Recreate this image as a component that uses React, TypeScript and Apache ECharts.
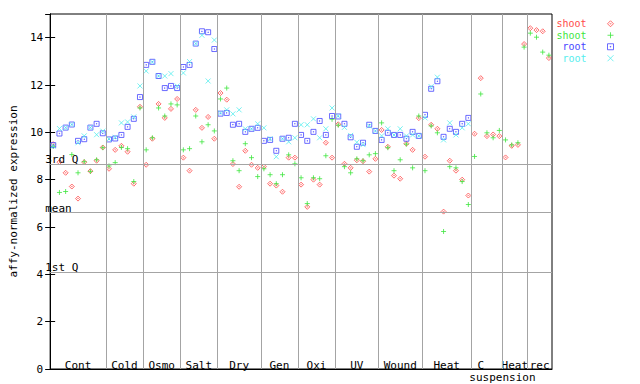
import React, { useEffect, useRef } from 'react';
import * as echarts from 'echarts';

const groupNames = ['Cont', 'Cold', 'Osmo', 'Salt', 'Dry', 'Gen', 'Oxi', 'UV', 'Wound', 'Heat', 'C', 'Heat', 'rec'];
const groupSizes = [9, 6, 6, 6, 7, 6, 6, 7, 7, 8, 5, 4, 4];
const subLabel = 'suspension';

const yTickValues = [0, 2, 4, 6, 8, 10, 12, 14];
const refLineNames = ['3rd Q', 'mean', '1st Q'];
const refLineValues = [8.67, 6.61, 4.08];

const legendNames = ['shoot', 'shoot', 'root', 'root'];

const shootA = [
  9.5, 8.74, 8.29, 7.71, 7.2, 8.74, 8.36, 8.8, 9.36,
  8.46, 9.26, 9.43, 9.18, 7.83, 11.08,
  8.63, 9.73, 11.2, 10.61, 10.99, 11.41,
  8.93, 8.38, 10.95, 10.19, 10.65, 9.73,
  11.66, 11.38, 8.66, 7.7, 9.22, 8.63, 8.5,
  8.55, 7.83, 7.75, 7.49, 8.93, 8.93,
  7.79, 6.85, 8.0, 7.79, 9.56, 8.93,
  10.34, 8.67, 8.5, 8.82, 8.78, 8.34, 8.88,
  10.1, 9.39, 8.17, 8.04, 9.52, 9.26, 10.6,
  8.97, 10.32, 10.15, 6.65, 8.8, 8.38, 8.0, 7.33,
  9.94, 12.29, 9.84, 9.91, 9.84,
  8.94, 9.43, 9.47, 13.73,
  14.4, 14.32, 14.27, 13.14,
];

const shootB = [
  9.4, 7.46, 7.5, 9.06, 8.29, 8.76, 8.35, 8.84, 9.35,
  8.58, 8.72, 9.36, 9.31, 7.92, 11.03,
  9.26, 9.77, 11.03, 10.69, 11.2, 11.16,
  9.26, 9.31, 10.69, 9.6, 10.32, 10.06,
  11.41, 11.87, 8.8, 8.38, 9.52, 8.93, 8.13,
  8.46, 8.21, 7.83, 8.21, 9.05, 8.67,
  8.08, 6.99, 8.08, 8.04, 9.01, 10.55,
  10.3, 8.55, 8.29, 8.88, 8.8, 9.05, 9.1,
  10.4, 9.35, 8.38, 8.84, 9.5, 8.5, 10.69,
  8.38, 10.27, 9.98, 5.81, 8.55, 8.5, 7.92, 6.95,
  8.98, 11.62, 9.98, 9.77, 10.08,
  9.68, 9.47, 9.56, 13.6,
  14.19, 14.02, 13.39, 13.26,
];

const rootA = [
  9.46, 9.95, 10.2, 10.33, 9.64, 9.71, 10.2, 10.36, 9.96,
  9.7, 9.74, 9.89, 10.23, 10.57, 11.49,
  12.85, 12.98, 12.38, 11.87, 11.96, 11.87,
  12.76, 12.85, 13.75, 14.27, 14.23, 13.52,
  10.79, 10.82, 10.32, 10.36, 10.02, 10.15, 10.19,
  9.64, 9.68, 9.22, 9.73, 9.77, 10.36,
  9.89, 9.64, 10.02, 10.48, 9.89, 10.69,
  10.67, 10.36, 9.79, 9.39, 9.56, 10.32, 10.06,
  9.68, 9.98, 9.89, 9.89, 9.73, 10.02, 9.85,
  10.74, 11.84, 12.16, 9.81, 10.15, 10.02, 10.36, 10.61,
];

const rootB = [
  9.42, 10.16, 10.2, 10.33, 9.56, 9.85, 10.2, 9.9, 10.05,
  9.72, 9.79, 10.4, 10.44, 10.65, 11.96,
  12.59, 12.97, 12.38, 12.38, 12.48, 11.96,
  12.51, 12.99, 13.75, 14.1, 12.17, 13.9,
  10.82, 10.95, 10.78, 10.95, 10.15, 10.15, 10.36,
  10.19, 9.73, 8.97, 9.73, 9.6, 9.77,
  10.32, 10.32, 10.57, 9.77, 10.15, 11.03,
  10.69, 10.21, 9.87, 9.58, 9.48, 10.27, 10.06,
  9.85, 10.15, 9.89, 10.15, 9.85, 9.89, 9.85,
  10.61, 11.93, 12.33, 9.68, 10.4, 9.89, 10.19, 10.36,
];

const RED = '#ff4a4a';
const GREEN = '#3ee63e';
const BLUE = '#4646ff';
const CYAN = '#55eeee';
const FONT = 'DejaVu Sans Mono';

const SYM_DIAMOND = 'path://M3 0L6 3L3 6L0 3Z M3 2.5L3.5 3L3 3.5L2.5 3Z';
const SYM_PLUS = 'path://M0 3H6M3 0V6';
const SYM_BOX = 'path://M0 0H6V6H0Z M2.7 2.7H3.3V3.3H2.7Z';
const SYM_X = 'path://M0 0L6 6M6 0L0 6';

export default function App() {
  const ref = useRef<HTMLDivElement>(null);

  useEffect(() => {
    if (!ref.current) return;
    const chart = echarts.init(ref.current, null, { renderer: 'svg' });

    const total = groupSizes.reduce((a, b) => a + b, 0);
    const bounds: number[] = [];
    const centers: number[] = [];
    let acc = 0;
    groupSizes.forEach((s, i) => {
      centers.push(acc + s / 2 - (groupNames[i] === 'C' ? 1 : 0));
      acc += s;
      if (i < groupSizes.length - 1) bounds.push(acc);
    });
    const labelMap: Record<string, string> = {};
    centers.forEach((c, i) => { labelMap[c.toFixed(2)] = groupNames[i]; });
    const subPos = bounds[groupNames.indexOf('C')];

    const toPts = (arr: number[]) => arr.map((v, i) => [i + 0.5, v]);
    const gray = '#a4a4a4';
    const colors = [RED, GREEN, BLUE, CYAN];

    const mkSeries = (name: string, data: number[], color: string, symbol: string, extra: any = {}) => ({
      name,
      type: 'scatter',
      data: toPts(data),
      symbol,
      symbolSize: 5,
      itemStyle: { color: 'rgba(0,0,0,0)', borderColor: color, borderWidth: 1 },
      emphasis: { disabled: true },
      ...extra,
    });

    const option: any = {
      animation: false,
      backgroundColor: '#ffffff',
      textStyle: { fontFamily: FONT },
      grid: { left: 44, top: 14, width: 508, height: 355, show: true, borderColor: '#000', borderWidth: 1, containLabel: false },
      legend: {
        orient: 'vertical',
        right: 26,
        top: 18,
        padding: 0,
        itemGap: 0,
        itemWidth: 38,
        itemHeight: 6,
        align: 'right',
        selectedMode: false,
        formatter: (n: string) => legendNames[Number(n.slice(1))],
        textStyle: { fontFamily: FONT, fontSize: 10, lineHeight: 11.5 },
        data: colors.map((c, i) => ({
          name: 's' + i,
          textStyle: { color: c },
          itemStyle: { color: 'rgba(0,0,0,0)', borderColor: c, borderWidth: 1 },
        })),
      },
      xAxis: [
        {
          type: 'value',
          min: 0,
          max: total,
          position: 'bottom',
          axisLine: { show: true, lineStyle: { color: '#000', width: 1 } },
          axisTick: { show: false },
          splitLine: { show: false },
          axisLabel: {
            inside: true,
            margin: -2,
            customValues: centers,
            formatter: (v: number) => labelMap[v.toFixed(2)] || '',
            color: '#000',
            fontFamily: FONT,
            fontSize: 11,
          },
        },
        {
          type: 'value',
          min: 0,
          max: total,
          position: 'bottom',
          axisLine: { show: false },
          axisTick: { show: false },
          splitLine: { show: false },
          axisLabel: {
            margin: 3,
            customValues: [subPos],
            formatter: () => subLabel,
            color: '#000',
            fontFamily: FONT,
            fontSize: 11,
          },
        },
      ],
      yAxis: [
        {
          type: 'value',
          min: 0,
          max: 15,
          interval: 2,
          name: 'affy-normalized expression',
          nameLocation: 'middle',
          nameGap: 30,
          nameTextStyle: { color: '#000', fontFamily: FONT, fontSize: 11 },
          axisLine: { show: true, lineStyle: { color: '#000', width: 1 } },
          axisTick: { show: true, inside: true, length: 5, lineStyle: { color: '#000' } },
          splitLine: { show: false },
          axisLabel: {
            margin: 7,
            color: '#000',
            fontFamily: FONT,
            fontSize: 11,
            showMaxLabel: false,
            formatter: (v: number) => (yTickValues.indexOf(v) >= 0 ? String(v) : ''),
          },
        },
        {
          type: 'value',
          min: 0,
          max: 15,
          interval: 2,
          position: 'right',
          axisLine: { show: true, lineStyle: { color: '#000', width: 1 } },
          axisTick: { show: true, inside: true, length: 5, lineStyle: { color: '#000' } },
          splitLine: { show: false },
          axisLabel: { show: false },
        },
      ],
      series: [
        mkSeries('s0', shootA, RED, SYM_DIAMOND, {
          z: 3,
          markLine: {
            silent: true,
            symbol: ['none', 'none'],
            animation: false,
            lineStyle: { color: gray, type: 'solid', width: 1 },
            label: { show: false },
            emphasis: { disabled: true },
            data: bounds.map((b) => ({ xAxis: b })),
          },
        }),
        mkSeries('s1', shootB, GREEN, SYM_PLUS, {
          z: 3,
          markLine: {
            silent: true,
            symbol: ['none', 'none'],
            animation: false,
            lineStyle: { color: gray, type: 'solid', width: 1 },
            emphasis: { disabled: true },
            label: {
              show: true,
              position: 'insideStartTop',
              formatter: '{b}',
              color: '#000',
              fontFamily: FONT,
              fontSize: 11,
              distance: [-5, -1],
            },
            data: refLineValues.map((v, i) => ({ yAxis: v, name: refLineNames[i] })),
          },
        }),
        mkSeries('s2', rootA, BLUE, SYM_BOX, { z: 3 }),
        mkSeries('s3', rootB, CYAN, SYM_X, { z: 3 }),
      ],
    };

    chart.setOption(option);
    return () => chart.dispose();
  }, []);

  return (
    <div
      ref={ref}
      style={{ position: 'fixed', left: 0, top: 0, width: 640, height: 384, background: '#fff' }}
    />
  );
}
